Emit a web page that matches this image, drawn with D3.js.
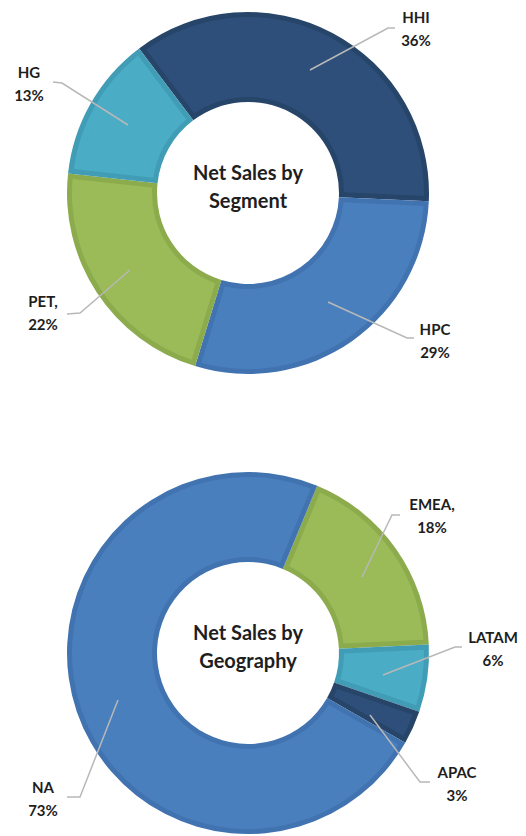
<!DOCTYPE html>
<html>
<head>
<meta charset="utf-8">
<script src="https://cdn.jsdelivr.net/npm/d3@7"></script>
<style>
  body { margin: 0; background: #fff; }
  text { font-family: Lato, "Open Sans", sans-serif; font-weight: bold; fill: #1e1e1e; }
</style>
</head>
<body>
<svg width="526" height="836"></svg>
<script>
// segment donut
var segNames = ["HHI", "HPC", "PET", "HG"];
var segValues = [36, 29, 22, 13];
var segLabels = [["HHI", "36%"], ["HPC", "29%"], ["PET,", "22%"], ["HG", "13%"]];
var segColors = ["#2d4f7a", "#4a7fbe", "#9bbb59", "#4bacc6"];
var segEdges = ["#274569", "#4173b0", "#8bab4c", "#419cb5"];

// geography donut
var geoNames = ["EMEA", "LATAM", "APAC", "NA"];
var geoValues = [18, 6, 3, 73];
var geoLabels = [["EMEA,", "18%"], ["LATAM", "6%"], ["APAC", "3%"], ["NA", "73%"]];
var geoColors = ["#9bbb59", "#4bacc6", "#2d4f7a", "#4a7fbe"];
var geoEdges = ["#8bab4c", "#419cb5", "#274569", "#4173b0"];

var svg = d3.select("svg");

var outerR = 181, innerR = 91;

function drawDonut(opts) {
    var g = svg.append("g")
        .attr("transform", "translate(" + opts.cx + "," + opts.cy + ")");

    var pie = d3.pie()
        .sort(null)
        .startAngle(opts.start)
        .endAngle(opts.start + 2 * Math.PI);

    var arcs = pie(opts.values);

    var arc = d3.arc().innerRadius(innerR).outerRadius(outerR);
    var innerArc = d3.arc()
        .innerRadius(innerR + 5)
        .outerRadius(outerR - 5)
        .padRadius(outerR)
        .padAngle(10 / outerR);

    //base slice in edge colour, then lighter inset on top
    g.selectAll("path.base")
        .data(arcs)
        .enter().append("path")
        .attr("class", "base")
        .attr("d", arc)
        .attr("fill", (d, i) => opts.edges[i]);

    g.selectAll("path.face")
        .data(arcs)
        .enter().append("path")
        .attr("class", "face")
        .attr("d", innerArc)
        .attr("fill", (d, i) => opts.colors[i]);

    //leader lines
    g.selectAll("polyline")
        .data(arcs)
        .enter().append("polyline")
        .attr("points", (d, i) => {
            var p = opts.leaders[i];
            return p.map(q => (q[0] - opts.cx) + "," + (q[1] - opts.cy)).join(" ");
        })
        .attr("fill", "none")
        .attr("stroke", "#b8b8b8")
        .attr("stroke-width", 1.5);

    //labels
    arcs.forEach((d, i) => {
        var pos = opts.labelPos[i];
        var t = g.append("text")
            .attr("text-anchor", "middle")
            .attr("font-size", 15)
            .attr("x", pos[0] - opts.cx)
            .attr("y", pos[1] - opts.cy);
        t.append("tspan").attr("x", pos[0] - opts.cx).text(opts.labels[i][0]);
        t.append("tspan").attr("x", pos[0] - opts.cx).attr("dy", 23).text(opts.labels[i][1]);
    });

    //centre title
    var title = g.append("text")
        .attr("text-anchor", "middle")
        .attr("font-size", 20);
    title.append("tspan").attr("x", 0).attr("y", -13).text("Net Sales by");
    title.append("tspan").attr("x", 0).attr("y", 15).text(opts.title);
}

drawDonut({
    cx: 248, cy: 193,
    start: -37 * Math.PI / 180,
    values: segValues,
    colors: segColors,
    edges: segEdges,
    labels: segLabels,
    title: "Segment",
    labelPos: [[416, 23], [435, 335], [43, 307], [29, 78]],
    leaders: [
        [[310, 70], [388, 28], [395, 28]],
        [[328, 302], [407, 338], [414, 338]],
        [[130, 270], [80, 313], [67, 314]],
        [[128, 125], [62, 83], [53, 82]]
    ]
});

drawDonut({
    cx: 248, cy: 653,
    start: 22.5 * Math.PI / 180,
    values: geoValues,
    colors: geoColors,
    edges: geoEdges,
    labels: geoLabels,
    title: "Geography",
    labelPos: [[432, 510], [493, 643], [457, 778], [43, 793]],
    leaders: [
        [[362, 577], [392, 515], [400, 515]],
        [[383, 675], [455, 647], [462, 647]],
        [[370, 715], [420, 782], [430, 782]],
        [[118, 700], [80, 797], [67, 797]]
    ]
});
</script>
</body>
</html>
